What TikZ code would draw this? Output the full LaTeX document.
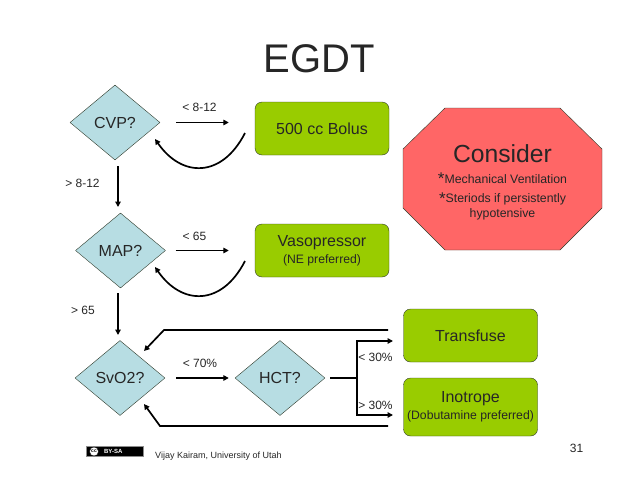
\documentclass[tikz,border=0pt]{standalone}
\usepackage{fontspec}
\setmainfont{Liberation Sans}
\usepackage{xcolor}
\definecolor{boxgreen}{HTML}{99CC00}
\definecolor{diamondblue}{HTML}{B7DDE3}
\definecolor{stopred}{HTML}{FF6666}
\definecolor{edgedark}{HTML}{2F3A2A}
\usetikzlibrary{arrows.meta, shapes.geometric}
\newcommand{\px}[1]{\fontsize{#1}{#1}\selectfont}

\begin{document}
\begin{tikzpicture}[
    x=1pt, y=-1pt,
    every node/.style={font=\px{12}, text=black!85, inner sep=0pt},
    decision/.style={diamond, draw=edgedark, thin, fill=diamondblue,
                     minimum width=90pt, minimum height=75pt, font=\px{16}},
    action/.style={rectangle, rounded corners=7pt, draw=edgedark, thin, fill=boxgreen,
                   minimum width=134pt, align=center, font=\px{16}},
    conn/.style={-{Triangle[length=5.5pt, width=5.5pt]}, line width=1.7pt, black},
    wire/.style={line width=1.7pt, black},
]
\useasboundingbox (0, 0) rectangle (638, 479);

\node[font=\px{40}] (title) at (319.5, 59) {EGDT};

% Decisions down the left side
\node[decision] (cvp) at (115, 122.5) {CVP?};
\node[decision] (map) at (120.5, 250.5) {MAP?};
\node[decision] (svo) at (120, 378) {SvO2?};
\node[decision] (hct) at (280, 378) {HCT?};

% Actions
\node[action, minimum height=53pt] (bolus) at (322, 128.5) {500 cc Bolus};
\node[action, minimum height=53pt] (vaso) at (322, 250.5)
    {Vasopressor\\[1pt]{\px{12.2}(NE preferred)}};
\node[action, minimum height=53pt] (transfuse) at (470.5, 335.5) {Transfuse};
\node[action, minimum height=58pt] (inotrope) at (470.5, 407)
    {Inotrope\\[1pt]{\px{12.2}(Dobutamine preferred)}};

% Consider octagon
\draw[draw=edgedark, thin, fill=stopred]
    (445, 108) -- (560, 108) -- (602, 149) -- (602, 208)
    -- (560, 250) -- (445, 250) -- (403, 208) -- (403, 149) -- cycle;
\node[font=\px{24.7}] (consider) at (502.5, 154) {Consider};
\node[font=\px{12.3}] (ventilation) at (502.5, 179)
    {\raisebox{-1.5pt}{\px{17}*}Mechanical Ventilation};
\node[font=\px{12.3}, align=center] (steroids) at (502.5, 206.5)
    {\raisebox{-1.5pt}{\px{17}*}Steriods if persistently\\[2.5pt]hypotensive};

% Free ends
\coordinate (cvpout) at (118, 166);
\coordinate (mapin) at (118, 207);
\coordinate (mapout) at (118, 293);
\coordinate (svoin) at (118, 335);
\coordinate (bolusback) at (245, 133);
\coordinate (cvpback) at (155, 139);
\coordinate (vasoback) at (245, 261);
\coordinate (mapback) at (155, 267);
\coordinate (fork) at (357, 378);
\coordinate (tfin) at (393, 341);
\coordinate (inin) at (393, 415);
\coordinate (transfusetail) at (388, 330);
\coordinate (topbend) at (164, 330);
\coordinate (topin) at (144, 351);
\coordinate (inotropetail) at (388, 426);
\coordinate (lowbend) at (160, 426);
\coordinate (lowin) at (144, 404);

% Arrows towards the actions
\draw[conn, shorten <=16pt, shorten >=26pt] (cvp.east) -- (bolus.west |- cvp.east);
\draw[conn, shorten <=10pt, shorten >=26pt] (map.east) -- (vaso.west);
\draw[conn, shorten <=11pt, shorten >=6pt] (svo.east) -- (hct.west);

% Arrows coming back
\draw[conn] (bolusback) .. controls (222, 178) and (182, 178) .. (cvpback);
\draw[conn] (vasoback) .. controls (222, 306) and (182, 306) .. (mapback);

% Arrows down the left side
\draw[conn] (cvpout) -- (mapin);
\draw[conn] (mapout) -- (svoin);

% HCT fork
\draw[wire, shorten <=5pt] (hct.east) -- (fork);
\draw[conn] (fork) |- (tfin);
\draw[conn] (fork) |- (inin);

% Feedback into SvO2
\draw[conn] (transfusetail) -- (topbend) -- (topin);
\draw[conn] (inotropetail) -- (lowbend) -- (lowin);

% Labels
\node (lcvp) at (199.5, 107) {< 8-12};
\node (gcvp) at (82.5, 183) {> 8-12};
\node (lmap) at (194.5, 236) {< 65};
\node (gmap) at (83, 310) {> 65};
\node (lsvo) at (200, 363) {< 70\%};
\node (lhct) at (375.5, 357) {< 30\%};
\node (ghct) at (375.5, 405) {> 30\%};

% Footer
\node[font=\px{12}] (page) at (576.5, 448) {31};
\node[font=\px{9}, anchor=west] (credit) at (155, 456) {Vijay Kairam, University of Utah};
\node[draw=black!45, line width=1pt, fill=black, minimum width=57pt, minimum height=10pt,
      text=white, font=\px{6}\bfseries, anchor=west, align=left, text width=22pt]
    (badge) at (86, 451.5) {BY-SA};
\node[circle, draw=black, fill=white, minimum size=9pt, font=\px{5}\bfseries, text=black]
    (ccmark) at (94, 451.5) {cc};
\end{tikzpicture}
\end{document}
